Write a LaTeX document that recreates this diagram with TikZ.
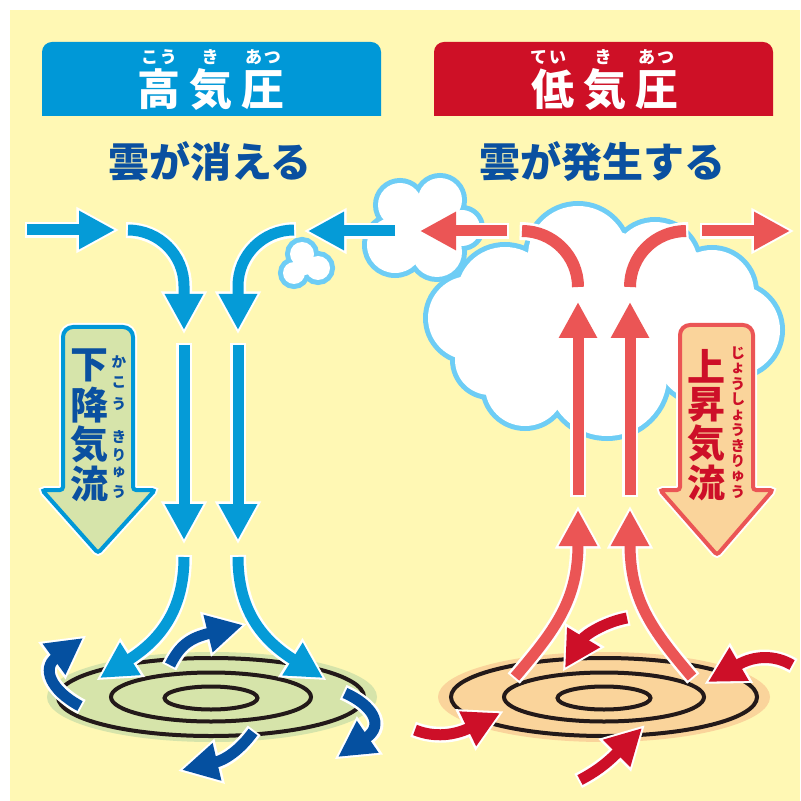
\documentclass[tikz,border=0pt]{standalone}
\usepackage{fontspec}
\usetikzlibrary{arrows.meta}
\newfontfamily\jp{Noto Sans CJK JP}

\definecolor{bgyellow}{RGB}{255,248,180}
\definecolor{highblue}{RGB}{0,152,215}
\definecolor{lowred}{RGB}{206,16,38}
\definecolor{navy}{RGB}{10,80,160}
\definecolor{skyarrow}{RGB}{5,155,215}
\definecolor{deeparrow}{RGB}{5,80,160}
\definecolor{salmon}{RGB}{235,85,85}
\definecolor{crimson}{RGB}{205,15,40}
\definecolor{cloudedge}{RGB}{110,205,245}
\definecolor{grass}{RGB}{214,228,170}
\definecolor{peach}{RGB}{250,212,155}
\definecolor{ring}{RGB}{35,25,25}

\tikzset{
  flow/.style={line width=5.5pt, -{Triangle[width=18pt,length=18pt]},
    preaction={draw=white, line width=8pt, shorten >=-2.2pt, shorten <=-1pt,
      -{Triangle[width=21.5pt,length=21.5pt]}}},
  band/.style={line width=6pt,
    preaction={draw=white, line width=9pt, shorten >=-1.2pt, shorten <=-1.2pt}},
  furi/.style={inner sep=0pt, font=\jp\bfseries\fontsize{8.5pt}{9pt}\selectfont},
  sidefuri/.style={inner sep=0pt, font=\jp\bfseries\fontsize{7.3pt}{7.5pt}\selectfont},
  bigword/.style={inner sep=0pt, font=\jp\bfseries\fontsize{19pt}{19pt}\selectfont},
  blockarrow/.style={line width=2pt, preaction={draw=white, line width=4pt}},
}

% a cloud is a union of circles: edges first, white fill on top
\newcommand\cloudpuffs[1]{%
  \foreach \cx/\cy/\r in {#1} \draw[cloudedge, line width=5pt] (\cx,\cy) circle[radius=\r];
  \foreach \cx/\cy/\r in {#1} \fill[white] (\cx,\cy) circle[radius=\r];}

\begin{document}
\begin{tikzpicture}[x=0.5pt,y=-0.5pt]
\useasboundingbox (0,0) rectangle (800,801);
\fill[white] (0,0) rectangle (800,801);
\fill[bgyellow] (10,10) rectangle (800,801);

% headers
\fill[highblue] (42,116) [rounded corners=5pt] -- (42,42) -- (381,42) [sharp corners] -- (381,116) -- cycle;
\fill[lowred] (434,116) [rounded corners=5pt] -- (434,42) -- (773,42) [sharp corners] -- (773,116) -- cycle;
\node[furi, text=white] (kou) at (159,57) {こ\kern1pt う};
\node[furi, text=white] (ki1) at (210,57) {き};
\node[furi, text=white] (atsu1) at (263,57) {あ\kern1pt つ};
\node[furi, text=white] (tei) at (548,57) {て\kern1pt い};
\node[furi, text=white] (ki2) at (603,57) {き};
\node[furi, text=white] (atsu2) at (656,57) {あ\kern1pt つ};
\node[inner sep=0pt, text=white, font=\jp\bfseries\fontsize{21.5pt}{22pt}\selectfont] (highname) at (211,89) {高\kern4.5pt 気\kern4.5pt 圧};
\node[inner sep=0pt, text=white, font=\jp\bfseries\fontsize{21.5pt}{22pt}\selectfont] (lowname) at (605,89) {低\kern4.5pt 気\kern4.5pt 圧};

\node[inner sep=0pt, text=navy, font=\jp\bfseries\fontsize{20.5pt}{21pt}\selectfont] (vanish) at (210,162) {雲が消える};
\node[inner sep=0pt, text=navy, font=\jp\bfseries\fontsize{20.5pt}{21pt}\selectfont] (form) at (602,162) {雲が発生する};

% ground
\fill[grass] (212,697) ellipse[x radius=165, y radius=45];
\fill[peach] (604,697) ellipse[x radius=166, y radius=45];
\foreach \gx in {211,604} {
  \draw[ring, line width=2pt] (\gx,697) ellipse[x radius=153, y radius=39];
  \draw[ring, line width=2pt] (\gx,697) ellipse[x radius=100, y radius=24.5];
  \draw[ring, line width=2pt] (\gx,698) ellipse[x radius=46.5, y radius=11.5];
}

% clouds
\cloudpuffs{302/254/12, 318/268/12, 294/273/11, 305/265/10}
\cloudpuffs{400/205/22, 440/200/22, 462/228/18, 437/252/25, 395/245/28, 425/230/30}
\cloudpuffs{578/256/50, 655/265/43, 712/292/42, 735/330/45, 705/352/50, 607/376/60,
  525/386/40, 490/360/35, 470/318/42, 505/295/48, 600/320/90, 680/310/60}

% sinking air
\draw[flow, skyarrow] (27,230) -- (115,230);
\draw[flow, skyarrow] (395,231) -- (308,231);
\draw[flow, skyarrow] (128,230) .. controls (159,230) and (184,255) .. (184,286) -- (184,330);
\draw[flow, skyarrow] (294,230) .. controls (263,230) and (238,255) .. (238,286) -- (238,330);
\draw[flow, skyarrow] (184,345) -- (184,540);
\draw[flow, skyarrow] (238,345) -- (238,540);
\draw[flow, skyarrow] (184,557) .. controls (184,610) and (160,640) .. (100,678);
\draw[flow, skyarrow] (238,557) .. controls (238,610) and (262,640) .. (323,678);

% rising air
\draw[flow, salmon] (507,231) -- (420,231);
\draw[flow, salmon] (702,231) -- (790,231);
\draw[band, salmon] (522,231) .. controls (553,231) and (578,256) .. (578,287);
\draw[band, salmon] (686,231) .. controls (655,231) and (630,256) .. (630,287);
\draw[flow, salmon] (578,495) -- (578,302);
\draw[flow, salmon] (630,495) -- (630,302);
\draw[flow, salmon] (515,677) .. controls (555,630) and (578,600) .. (578,510);
\draw[flow, salmon] (692,677) .. controls (652,630) and (630,600) .. (630,510);

% spreading out at the ground
\draw[flow, deeparrow] (80,706) .. controls (50,690) and (42,668) .. (83,638);
\draw[flow, deeparrow] (170,665) .. controls (180,645) and (190,638) .. (243,625);
\draw[flow, deeparrow] (345,693) .. controls (372,705) and (385,725) .. (338,757);
\draw[flow, deeparrow] (253,732) .. controls (240,750) and (225,760) .. (182,770);

% drawn in at the ground
\draw[flow, crimson] (627,618) .. controls (605,622) and (585,635) .. (565,668);
\draw[flow, crimson] (792,665) .. controls (775,655) and (755,655) .. (708,682);
\draw[flow, crimson] (415,730) .. controls (435,738) and (455,735) .. (500,713);
\draw[flow, crimson] (580,780) .. controls (595,772) and (605,765) .. (642,728);

% block arrows
\draw[blockarrow, draw=highblue, fill=grass] (98,553) [rounded corners=1.5pt] -- (155,490) -- (133,490)
  [rounded corners=5pt] -- (133,327) -- (63,327) [rounded corners=1.5pt] -- (63,490) -- (42,490) -- cycle;
\draw[blockarrow, draw=salmon, fill=peach] (717,555) [rounded corners=1.5pt] -- (773,490) -- (753,490)
  [rounded corners=5pt] -- (753,325) -- (680,325) [rounded corners=1.5pt] -- (680,490) -- (660,490) -- cycle;

\foreach \k/\y [count=\i] in {下/365, 降/405, 気/444, 流/484}
  \node[bigword, text=navy] (down\i) at (89,\y) {\k};
\foreach \k/\y [count=\i] in {か/362, こ/382, う/404, き/437, り/455, ゅ/473, う/492}
  \node[sidefuri, text=navy] (downkana\i) at (119,\y) {\k};
\foreach \k/\y [count=\i] in {上/366, 昇/405, 気/443, 流/483}
  \node[bigword, text=crimson] (up\i) at (706,\y) {\k};
\foreach \k/\y [count=\i] in {じ/353, ょ/368.5, う/384, し/399.5, ょ/415, う/430, き/446, り/461, ゅ/477, う/492}
  \node[sidefuri, text=crimson] (upkana\i) at (738,\y) {\k};
\end{tikzpicture}
\end{document}
